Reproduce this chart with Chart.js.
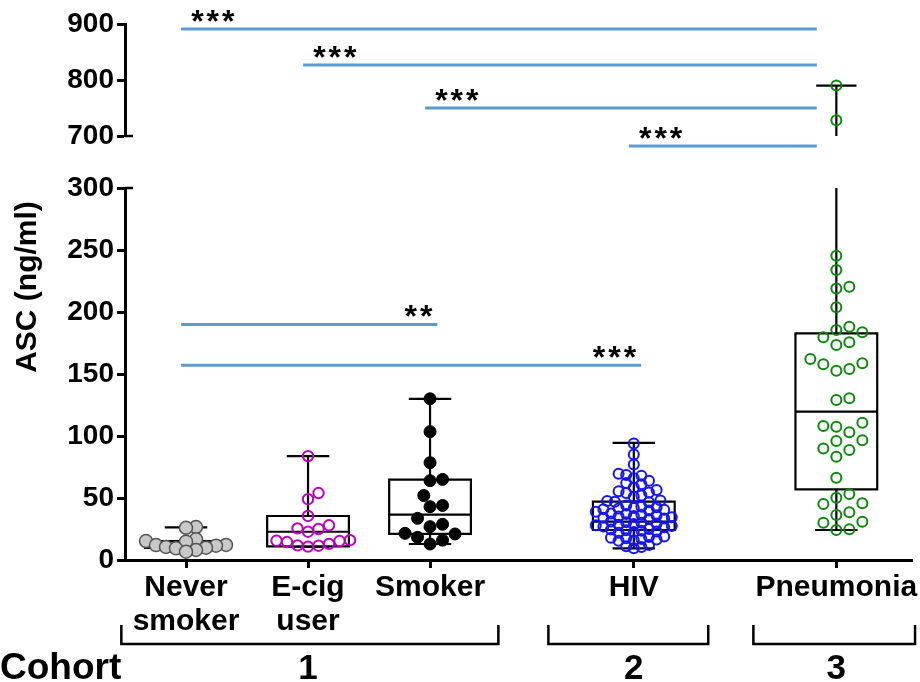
<!DOCTYPE html>
<html>
<head>
<meta charset="utf-8">
<script src="https://cdn.jsdelivr.net/npm/chart.js@4.4.0/dist/chart.umd.min.js"></script>
<style>
  html, body { margin: 0; padding: 0; background: #fff; }
</style>
</head>
<body>
<canvas id="ascChart" width="920" height="682"></canvas>
<script>
// categories and where they sit on the x axis
const groupLabels = [['Never', 'smoker'], ['E-cig', 'user'], 'Smoker', 'HIV', 'Pneumonia'];
const groupPos = [1, 2, 3, 4.67, 6.33];

// individual values (ng/ml)
const neverSmoker = [26.6, 26, 16.7, 15.3, 14.8, 12.1, 12, 11.5, 10.5, 9.9, 9.4, 8.1, 6.7];
const ecigUser = [83.8, 54, 49, 35.5, 28, 25, 25.5, 22.8, 16, 15.6, 15.3, 14.5, 13, 11.5, 11.8, 10.8];
const smoker = [130, 103.5, 78.5, 65, 64, 52, 44, 43, 33.6, 28.8, 26.9, 21, 21.5, 18.3, 16, 12.9];
const hiv = [94, 85, 77, 69.5, 68.5, 68, 66, 64, 62, 61, 58.5, 56.5, 55.5, 54.5, 54, 52, 51,
  48, 47.5, 47, 46.5, 44, 43, 42.5, 42, 41.5, 41, 40.5, 40, 39, 37.5, 37, 36.5, 36, 35.5,
  35, 34.5, 34, 33.5, 33, 31, 30.5, 30, 29.5, 29, 28.5, 28, 27.5, 27, 26.5, 25, 24.5, 24,
  23.5, 23, 22.5, 22, 19, 18.5, 18, 17.5, 17, 16.5, 16, 15.5, 12, 11, 10.5, 9.5];
const pneumonia = [245.4, 233.9, 220.4, 219, 203.8, 188.1, 185.5, 183.6, 179.6, 175.6, 173.4,
  162.1, 158.6, 157.8, 154, 152.7, 130.4, 129, 110.7, 108, 107.5, 103, 96, 96.5, 90, 88.7,
  83.3, 66.4, 53.2, 50.2, 45.7, 45.2, 38.5, 36.3, 30.9, 30.1, 24.7, 24.2];
const pneumoniaHigh = [790, 728];

// box plot summaries (min, q1, median, q3, max) per group
const boxMin = [6.5, 10.5, 12.9, 9.4, 24.2];
const boxQ1 = [9.7, 11, 21, 24.2, 57];
const boxMedian = [12.3, 22.8, 36.6, 31, 119.6];
const boxQ3 = [15.3, 35.5, 64.8, 47, 182.8];
const boxMax = [26.3, 83.8, 130, 94.4, 790];

// axis ticks
const lowTicks = [0, 50, 100, 150, 200, 250, 300];
const topTicks = [700, 800, 900];

// significance bars
const sigFrom = [0, 1, 2, 3, 0, 0];
const sigTo = [4, 4, 4, 4, 2, 3];
const sigLevel = [891, 827, 750, 682, 190, 157];
const sigAxis = ['yTop', 'yTop', 'yTop', 'yTop', 'yLow', 'yLow'];
const sigMark = ['***', '***', '***', '***', '**', '***'];

// cohorts
const cohortLabels = ['1', '2', '3'];
const cohortFirst = [0, 3, 4];
const cohortLast = [2, 3, 4];
const cohortLabelGroup = [1, 3, 4];

// ---- layout / style ----
const FONT = '"Liberation Sans", Arial, Helvetica, sans-serif';
const boxHalf = 0.335, capHalf = 0.165;
const bracketPadL = [0.53, 0.7, 0.68], bracketPadR = [0.56, 0.61, 0.645];
const lowMax = 300;

Chart.defaults.font.family = FONT;
Chart.defaults.color = '#000';

const pointSets = [
  { values: neverSmoker, g: 0, axis: 'yLow', r: 6.5, bw: 1.5, fill: '#c8c8c8', stroke: '#555', dist: 10 },
  { values: ecigUser, g: 1, axis: 'yLow', r: 5.2, bw: 2, fill: 'rgba(0,0,0,0)', stroke: '#c000c0', dist: 10.5 },
  { values: smoker, g: 2, axis: 'yLow', r: 6, bw: 1, fill: '#000', stroke: '#000', dist: 12.5 },
  { values: hiv, g: 3, axis: 'yLow', r: 5, bw: 2, fill: 'rgba(0,0,0,0)', stroke: '#1414ff', dist: 7.6 },
  { values: pneumonia, g: 4, axis: 'yLow', r: 5, bw: 2, fill: 'rgba(0,0,0,0)', stroke: '#0a8a0a', dist: 13 },
  { values: pneumoniaHigh, g: 4, axis: 'yTop', r: 5, bw: 2, fill: 'rgba(0,0,0,0)', stroke: '#0a8a0a', dist: 13 }
];

const datasets = [];

pointSets.forEach(ps => {
  ps.index = datasets.length;
  datasets.push({
    type: 'scatter',
    yAxisID: ps.axis,
    data: ps.values.map(v => ({ x: groupPos[ps.g], y: v })),
    pointRadius: ps.r,
    pointBorderWidth: ps.bw,
    pointBackgroundColor: ps.fill,
    pointBorderColor: ps.stroke,
    pointHoverRadius: ps.r,
    clip: false,
    order: 0
  });
});

function gap(c) { return { x: c, y: null }; }

// boxes, medians, whiskers
groupPos.forEach((c, i) => {
  const pts = [
    { x: c - boxHalf, y: boxQ1[i] }, { x: c + boxHalf, y: boxQ1[i] },
    { x: c + boxHalf, y: boxQ3[i] }, { x: c - boxHalf, y: boxQ3[i] },
    { x: c - boxHalf, y: boxQ1[i] }, gap(c),
    { x: c - boxHalf, y: boxMedian[i] }, { x: c + boxHalf, y: boxMedian[i] }, gap(c),
    { x: c, y: boxQ3[i] }, { x: c, y: Math.min(boxMax[i], lowMax) }, gap(c),
    { x: c, y: boxQ1[i] }, { x: c, y: boxMin[i] }, gap(c),
    { x: c - capHalf, y: boxMin[i] }, { x: c + capHalf, y: boxMin[i] }
  ];
  if (boxMax[i] <= lowMax) {
    pts.push(gap(c), { x: c - capHalf, y: boxMax[i] }, { x: c + capHalf, y: boxMax[i] });
  }
  datasets.push({
    type: 'line', yAxisID: 'yLow', data: pts,
    borderColor: '#000', borderWidth: 2.2, pointRadius: 0, pointHoverRadius: 0,
    borderCapStyle: 'square', borderJoinStyle: 'miter', spanGaps: false, tension: 0, order: 1
  });
  if (boxMax[i] > lowMax) {
    datasets.push({
      type: 'line', yAxisID: 'yTop',
      data: [{ x: c, y: topTicks[0] }, { x: c, y: boxMax[i] }, gap(c),
             { x: c - capHalf, y: boxMax[i] }, { x: c + capHalf, y: boxMax[i] }],
      borderColor: '#000', borderWidth: 2.2, pointRadius: 0, pointHoverRadius: 0,
      spanGaps: false, tension: 0, order: 1
    });
  }
});

// significance bars
const sigStart = i => groupPos[sigFrom[i]] - 0.04;
const sigEnd = i => groupPos[sigTo[i]] + (sigAxis[i] === 'yTop' ? -0.16 : 0.06);
sigMark.forEach((m, i) => {
  datasets.push({
    type: 'line', yAxisID: sigAxis[i],
    data: [{ x: sigStart(i), y: sigLevel[i] }, { x: sigEnd(i), y: sigLevel[i] }],
    borderColor: '#5b9bd5', borderWidth: 3, pointRadius: 0, pointHoverRadius: 0,
    clip: false, order: 2
  });
});

const decor = {
  id: 'decor',
  afterDatasetsDraw(chart) {
    const ctx = chart.ctx, xs = chart.scales.x, area = chart.chartArea;
    ctx.save();
    ctx.fillStyle = '#000';
    ctx.strokeStyle = '#000';

    // asterisks
    ctx.font = 'bold 32px ' + FONT;
    ctx.letterSpacing = '3px';
    ctx.textBaseline = 'alphabetic';
    sigMark.forEach((m, i) => {
      const y = chart.scales[sigAxis[i]].getPixelForValue(sigLevel[i]) + 3;
      if (sigAxis[i] === 'yTop') {
        ctx.textAlign = 'left';
        ctx.fillText(m, xs.getPixelForValue(sigStart(i)) + 10, y);
      } else {
        ctx.textAlign = 'right';
        ctx.fillText(m, xs.getPixelForValue(sigEnd(i)) - 2, y);
      }
    });
    ctx.letterSpacing = '0px';

    // axis break marks
    ctx.lineWidth = 2.5;
    const ax = area.left;
    [[chart.scales.yTop, topTicks[0]], [chart.scales.yLow, lowMax]].forEach(([s, v]) => {
      const y = s.getPixelForValue(v);
      ctx.beginPath(); ctx.moveTo(ax, y); ctx.lineTo(ax + 8, y); ctx.stroke();
    });

    // y title
    ctx.save();
    ctx.translate(28, (area.top + area.bottom) / 2 - 5);
    ctx.rotate(-Math.PI / 2);
    ctx.font = 'bold 30px ' + FONT;
    ctx.textAlign = 'center';
    ctx.textBaseline = 'middle';
    ctx.fillText('ASC (ng/ml)', 0, 0);
    ctx.restore();

    // cohort brackets
    const yb0 = area.bottom + 65, yb1 = area.bottom + 84;
    ctx.lineWidth = 2.5;
    cohortLabels.forEach((lab, k) => {
      const x0 = xs.getPixelForValue(groupPos[cohortFirst[k]] - bracketPadL[k]);
      const x1 = xs.getPixelForValue(groupPos[cohortLast[k]] + bracketPadR[k]);
      ctx.beginPath();
      ctx.moveTo(x0, yb0); ctx.lineTo(x0, yb1); ctx.lineTo(x1, yb1); ctx.lineTo(x1, yb0);
      ctx.stroke();
    });
    ctx.font = 'bold 37px ' + FONT;
    ctx.textBaseline = 'middle';
    ctx.textAlign = 'left';
    ctx.fillText('Cohort', 0, area.bottom + 109);
    ctx.font = 'bold 35px ' + FONT;
    ctx.textAlign = 'center';
    cohortLabels.forEach((lab, k) => {
      ctx.fillText(lab, xs.getPixelForValue(groupPos[cohortLabelGroup[k]]), area.bottom + 109);
    });
    ctx.restore();
  }
};

const yCommon = {
  type: 'linear',
  stack: 'ydemo',
  border: { color: '#000', width: 3 },
  grid: { drawOnChartArea: false, drawTicks: true, tickLength: 8, tickWidth: 3, color: '#000' },
  ticks: { autoSkip: false, font: { size: 28, weight: 'bold' }, color: '#000', padding: 3 },
  afterFit: s => { s.width = 125; }
};

const ctx = document.getElementById('ascChart').getContext('2d');
const chart = new Chart(ctx, {
  type: 'scatter',
  data: { datasets: datasets },
  options: {
    responsive: false,
    animation: false,
    layout: { padding: { top: 24, right: 8, left: 0, bottom: 0 } },
    plugins: { legend: { display: false }, tooltip: { enabled: false } },
    scales: {
      x: {
        type: 'linear', min: 0.5, max: 6.95, offset: false,
        border: { color: '#000', width: 3 },
        grid: { drawOnChartArea: false, tickLength: 8, tickWidth: 3, color: '#000' },
        afterBuildTicks: s => { s.ticks = groupPos.map(v => ({ value: v })); },
        ticks: {
          autoSkip: false, maxRotation: 0, padding: 2,
          font: { size: 30, weight: 'bold', lineHeight: 1.15 },
          callback: v => groupLabels[groupPos.indexOf(v)]
        },
        afterFit: s => { s.height = 122; }
      },
      yLow: Object.assign({}, yCommon, {
        min: 0, max: lowMax, stackWeight: 372,
        afterBuildTicks: s => { s.ticks = lowTicks.map(v => ({ value: v })); }
      }),
      yGap: {
        type: 'linear', stack: 'ydemo', stackWeight: 52, min: 0, max: 1,
        display: false, afterFit: s => { s.width = 125; }
      },
      yTop: Object.assign({}, yCommon, {
        min: topTicks[0], max: topTicks[topTicks.length - 1], stackWeight: 112,
        afterBuildTicks: s => { s.ticks = topTicks.map(v => ({ value: v })); }
      })
    }
  },
  plugins: [decor]
});

// spread each group's points sideways so they do not overlap (beeswarm)
function swarmOffsets(values, yScale, minDist) {
  const order = values.map((v, i) => i).sort((a, b) => values[a] - values[b]);
  const placed = [];
  const offs = new Array(values.length).fill(0);
  const step = minDist / 2;
  order.forEach(i => {
    const py = yScale.getPixelForValue(values[i]);
    for (let k = 0; k < 400; k++) {
      const dx = k === 0 ? 0 : Math.ceil(k / 2) * step * (k % 2 ? 1 : -1);
      if (placed.every(p => Math.hypot(p.x - dx, p.y - py) >= minDist - 0.01)) {
        offs[i] = dx;
        placed.push({ x: dx, y: py });
        break;
      }
    }
  });
  return offs;
}

const xs = chart.scales.x;
const unit = xs.getPixelForValue(1) - xs.getPixelForValue(0);
pointSets.forEach(ps => {
  const offs = swarmOffsets(ps.values, chart.scales[ps.axis], ps.dist);
  chart.data.datasets[ps.index].data = ps.values.map((v, j) => ({ x: groupPos[ps.g] + offs[j] / unit, y: v }));
});
chart.update('none');
</script>
</body>
</html>
